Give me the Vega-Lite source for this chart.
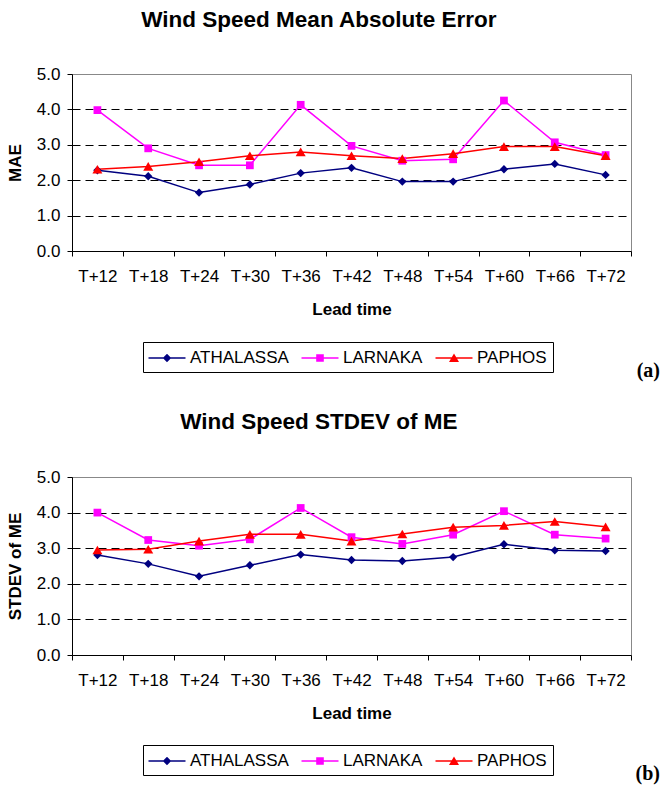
{
  "$schema": "https://vega.github.io/schema/vega-lite/v6.json",
  "background": "white",
  "padding": {"left": 5, "top": 8, "right": 5, "bottom": 5},
  "datasets": {
    "mae": [
      {"lead": "T+12", "station": "ATHALASSA", "value": 2.28},
      {"lead": "T+18", "station": "ATHALASSA", "value": 2.11},
      {"lead": "T+24", "station": "ATHALASSA", "value": 1.65},
      {"lead": "T+30", "station": "ATHALASSA", "value": 1.88},
      {"lead": "T+36", "station": "ATHALASSA", "value": 2.20},
      {"lead": "T+42", "station": "ATHALASSA", "value": 2.35},
      {"lead": "T+48", "station": "ATHALASSA", "value": 1.96},
      {"lead": "T+54", "station": "ATHALASSA", "value": 1.96},
      {"lead": "T+60", "station": "ATHALASSA", "value": 2.31},
      {"lead": "T+66", "station": "ATHALASSA", "value": 2.46},
      {"lead": "T+72", "station": "ATHALASSA", "value": 2.15},
      {"lead": "T+12", "station": "LARNAKA", "value": 3.98},
      {"lead": "T+18", "station": "LARNAKA", "value": 2.90},
      {"lead": "T+24", "station": "LARNAKA", "value": 2.42},
      {"lead": "T+30", "station": "LARNAKA", "value": 2.42},
      {"lead": "T+36", "station": "LARNAKA", "value": 4.13},
      {"lead": "T+42", "station": "LARNAKA", "value": 2.97},
      {"lead": "T+48", "station": "LARNAKA", "value": 2.55},
      {"lead": "T+54", "station": "LARNAKA", "value": 2.59},
      {"lead": "T+60", "station": "LARNAKA", "value": 4.25},
      {"lead": "T+66", "station": "LARNAKA", "value": 3.07},
      {"lead": "T+72", "station": "LARNAKA", "value": 2.71},
      {"lead": "T+12", "station": "PAPHOS", "value": 2.31},
      {"lead": "T+18", "station": "PAPHOS", "value": 2.39},
      {"lead": "T+24", "station": "PAPHOS", "value": 2.52},
      {"lead": "T+30", "station": "PAPHOS", "value": 2.69},
      {"lead": "T+36", "station": "PAPHOS", "value": 2.80},
      {"lead": "T+42", "station": "PAPHOS", "value": 2.69},
      {"lead": "T+48", "station": "PAPHOS", "value": 2.61},
      {"lead": "T+54", "station": "PAPHOS", "value": 2.75},
      {"lead": "T+60", "station": "PAPHOS", "value": 2.95},
      {"lead": "T+66", "station": "PAPHOS", "value": 2.95},
      {"lead": "T+72", "station": "PAPHOS", "value": 2.69}
    ],
    "stdev": [
      {"lead": "T+12", "station": "ATHALASSA", "value": 2.81},
      {"lead": "T+18", "station": "ATHALASSA", "value": 2.56},
      {"lead": "T+24", "station": "ATHALASSA", "value": 2.21},
      {"lead": "T+30", "station": "ATHALASSA", "value": 2.52},
      {"lead": "T+36", "station": "ATHALASSA", "value": 2.82},
      {"lead": "T+42", "station": "ATHALASSA", "value": 2.67},
      {"lead": "T+48", "station": "ATHALASSA", "value": 2.64},
      {"lead": "T+54", "station": "ATHALASSA", "value": 2.75},
      {"lead": "T+60", "station": "ATHALASSA", "value": 3.11},
      {"lead": "T+66", "station": "ATHALASSA", "value": 2.94},
      {"lead": "T+72", "station": "ATHALASSA", "value": 2.92},
      {"lead": "T+12", "station": "LARNAKA", "value": 4.00},
      {"lead": "T+18", "station": "LARNAKA", "value": 3.23},
      {"lead": "T+24", "station": "LARNAKA", "value": 3.07},
      {"lead": "T+30", "station": "LARNAKA", "value": 3.25},
      {"lead": "T+36", "station": "LARNAKA", "value": 4.13},
      {"lead": "T+42", "station": "LARNAKA", "value": 3.31},
      {"lead": "T+48", "station": "LARNAKA", "value": 3.12},
      {"lead": "T+54", "station": "LARNAKA", "value": 3.38},
      {"lead": "T+60", "station": "LARNAKA", "value": 4.04},
      {"lead": "T+66", "station": "LARNAKA", "value": 3.38},
      {"lead": "T+72", "station": "LARNAKA", "value": 3.27},
      {"lead": "T+12", "station": "PAPHOS", "value": 2.95},
      {"lead": "T+18", "station": "PAPHOS", "value": 2.97},
      {"lead": "T+24", "station": "PAPHOS", "value": 3.20},
      {"lead": "T+30", "station": "PAPHOS", "value": 3.39},
      {"lead": "T+36", "station": "PAPHOS", "value": 3.39},
      {"lead": "T+42", "station": "PAPHOS", "value": 3.20},
      {"lead": "T+48", "station": "PAPHOS", "value": 3.40},
      {"lead": "T+54", "station": "PAPHOS", "value": 3.59},
      {"lead": "T+60", "station": "PAPHOS", "value": 3.64},
      {"lead": "T+66", "station": "PAPHOS", "value": 3.75},
      {"lead": "T+72", "station": "PAPHOS", "value": 3.60}
    ]
  },
  "config": {
    "font": "Liberation Sans",
    "view": {"stroke": "#888888", "strokeWidth": 1},
    "axis": {
      "labelFont": "Liberation Sans", "labelFontSize": 17, "labelColor": "#000000",
      "titleFont": "Liberation Sans", "titleFontSize": 17, "titleFontWeight": "bold", "titleColor": "#000000",
      "domainColor": "#000000", "tickColor": "#000000", "domainWidth": 1, "tickWidth": 1, "tickSize": 5
    },
    "title": {"font": "Liberation Sans", "fontSize": 22.5, "fontWeight": "bold", "color": "#000000", "anchor": "middle", "frame": "bounds"},
    "legend": {
      "orient": "none", "legendX": 71, "legendY": 268, "direction": "horizontal", "columns": 3,
      "symbolSize": 400, "symbolOffset": 8, "labelOffset": 13, "columnPadding": 12, "padding": 6,
      "strokeColor": "#000000", "fillColor": "#ffffff", "labelFontSize": 17, "labelColor": "#000000",
      "labelFont": "Liberation Sans", "symbolStrokeWidth": 0
    },
    "concat": {"spacing": 29}
  },
  "resolve": {"legend": {"color": "independent"}},
  "vconcat": [
    {
      "title": {"text": "(a)", "orient": "bottom", "anchor": "end", "font": "Liberation Serif", "fontSize": 20, "fontWeight": "bold", "offset": -12, "dx": 28},
      "resolve": {"legend": {"color": "independent"}},
      "vconcat": [
        {
          "width": 559, "height": 177,
          "title": {"text": "Wind Speed Mean Absolute Error", "offset": 34},
          "data": {"name": "mae"},
          "encoding": {
            "x": {"field": "lead", "type": "ordinal", "bandPosition": 0.5,
              "scale": {"type": "band", "paddingInner": 0, "paddingOuter": 0},
              "axis": {"title": "Lead time", "labelAngle": 0, "tickBand": "extent", "grid": false, "labelPadding": 12, "titlePadding": 17}},
            "y": {"field": "value", "type": "quantitative", "scale": {"domain": [0, 5]},
              "axis": {"title": "MAE", "values": [0, 1, 2, 3, 4, 5], "format": ".1f", "grid": true, "gridDash": [8, 5],
                "gridColor": {"condition": {"test": "datum.value >= 5", "value": "#888888"}, "value": "#000000"},
                "labelPadding": 7, "titlePadding": 12}},
            "color": {"field": "station", "type": "nominal",
              "scale": {"domain": ["ATHALASSA", "LARNAKA", "PAPHOS"], "range": ["#000080", "#FF00FF", "#FF0000"]},
              "legend": {"title": null,
                "encode": {"symbols": {"update": {
                  "shape": {"signal": "datum.value === 'ATHALASSA' ? 'M-1.85,-0.07H1.85V0.07H-1.85ZM0,-0.42L0.42,0L0,0.42L-0.42,0Z' : datum.value === 'LARNAKA' ? 'M-1.85,-0.07H1.85V0.07H-1.85ZM-0.38,-0.38H0.38V0.38H-0.38Z' : 'M-1.85,-0.07H1.85V0.07H-1.85ZM0,-0.45L0.5,0.4H-0.5Z'"},
                  "fill": {"signal": "datum.value === 'ATHALASSA' ? '#000080' : datum.value === 'LARNAKA' ? '#FF00FF' : '#FF0000'"},
                  "strokeWidth": {"value": 0},
                  "size": {"value": 400},
                  "opacity": {"value": 1}
                }}}}}
          },
          "layer": [
            {"mark": {"type": "line", "strokeWidth": 1.5}},
            {"transform": [{"filter": "datum.station === 'ATHALASSA'"}],
              "mark": {"type": "point", "filled": true, "opacity": 1, "shape": "diamond", "size": 70}},
            {"transform": [{"filter": "datum.station === 'LARNAKA'"}],
              "mark": {"type": "point", "filled": true, "opacity": 1, "shape": "square", "size": 60}},
            {"transform": [{"filter": "datum.station === 'PAPHOS'"}],
              "mark": {"type": "point", "filled": true, "opacity": 1, "shape": "triangle-up", "size": 100}}
          ]
        }
      ]
    },
    {
      "title": {"text": "(b)", "orient": "bottom", "anchor": "end", "font": "Liberation Serif", "fontSize": 20, "fontWeight": "bold", "offset": -12, "dx": 28},
      "resolve": {"legend": {"color": "independent"}},
      "vconcat": [
        {
          "width": 559, "height": 178,
          "title": {"text": "Wind Speed STDEV of ME", "offset": 35},
          "data": {"name": "stdev"},
          "encoding": {
            "x": {"field": "lead", "type": "ordinal", "bandPosition": 0.5,
              "scale": {"type": "band", "paddingInner": 0, "paddingOuter": 0},
              "axis": {"title": "Lead time", "labelAngle": 0, "tickBand": "extent", "grid": false, "labelPadding": 12, "titlePadding": 17}},
            "y": {"field": "value", "type": "quantitative", "scale": {"domain": [0, 5]},
              "axis": {"title": "STDEV of ME", "values": [0, 1, 2, 3, 4, 5], "format": ".1f", "grid": true, "gridDash": [8, 5],
                "gridColor": {"condition": {"test": "datum.value >= 5", "value": "#888888"}, "value": "#000000"},
                "labelPadding": 7, "titlePadding": 12}},
            "color": {"field": "station", "type": "nominal",
              "scale": {"domain": ["ATHALASSA", "LARNAKA", "PAPHOS"], "range": ["#000080", "#FF00FF", "#FF0000"]},
              "legend": {"title": null,
                "encode": {"symbols": {"update": {
                  "shape": {"signal": "datum.value === 'ATHALASSA' ? 'M-1.85,-0.07H1.85V0.07H-1.85ZM0,-0.42L0.42,0L0,0.42L-0.42,0Z' : datum.value === 'LARNAKA' ? 'M-1.85,-0.07H1.85V0.07H-1.85ZM-0.38,-0.38H0.38V0.38H-0.38Z' : 'M-1.85,-0.07H1.85V0.07H-1.85ZM0,-0.45L0.5,0.4H-0.5Z'"},
                  "fill": {"signal": "datum.value === 'ATHALASSA' ? '#000080' : datum.value === 'LARNAKA' ? '#FF00FF' : '#FF0000'"},
                  "strokeWidth": {"value": 0},
                  "size": {"value": 400},
                  "opacity": {"value": 1}
                }}}}}
          },
          "layer": [
            {"mark": {"type": "line", "strokeWidth": 1.5}},
            {"transform": [{"filter": "datum.station === 'ATHALASSA'"}],
              "mark": {"type": "point", "filled": true, "opacity": 1, "shape": "diamond", "size": 70}},
            {"transform": [{"filter": "datum.station === 'LARNAKA'"}],
              "mark": {"type": "point", "filled": true, "opacity": 1, "shape": "square", "size": 60}},
            {"transform": [{"filter": "datum.station === 'PAPHOS'"}],
              "mark": {"type": "point", "filled": true, "opacity": 1, "shape": "triangle-up", "size": 100}}
          ]
        }
      ]
    }
  ]
}
